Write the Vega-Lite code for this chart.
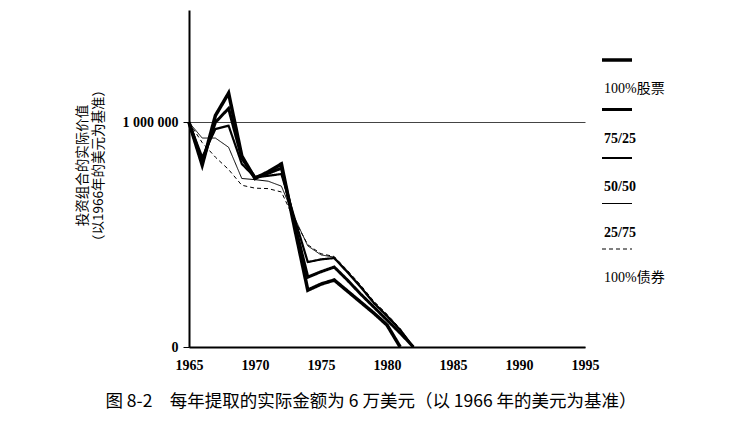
{
  "$schema": "https://vega.github.io/schema/vega-lite/v6.json",
  "width": 396,
  "height": 337,
  "autosize": {"type": "none"},
  "padding": {"left": 189, "top": 10, "right": 157, "bottom": 87},
  "background": "white",
  "title": {
    "text": "图 8-2　每年提取的实际金额为 6 万美元（以 1966 年的美元为基准）",
    "orient": "bottom",
    "anchor": "middle",
    "frame": "group",
    "dx": -16,
    "offset": 21,
    "font": "Noto Sans CJK SC",
    "fontSize": 17.5,
    "fontWeight": "normal",
    "color": "black"
  },
  "data": {
    "values": [
      {"year": 1965, "portfolio": "100%股票", "value": 1000000},
      {"year": 1966, "portfolio": "100%股票", "value": 810000},
      {"year": 1967, "portfolio": "100%股票", "value": 1030000},
      {"year": 1968, "portfolio": "100%股票", "value": 1130000},
      {"year": 1969, "portfolio": "100%股票", "value": 850000},
      {"year": 1970, "portfolio": "100%股票", "value": 750000},
      {"year": 1971, "portfolio": "100%股票", "value": 780000},
      {"year": 1972, "portfolio": "100%股票", "value": 815000},
      {"year": 1973, "portfolio": "100%股票", "value": 530000},
      {"year": 1974, "portfolio": "100%股票", "value": 253000},
      {"year": 1975, "portfolio": "100%股票", "value": 280000},
      {"year": 1976, "portfolio": "100%股票", "value": 298000},
      {"year": 1977, "portfolio": "100%股票", "value": 249000},
      {"year": 1978, "portfolio": "100%股票", "value": 200000},
      {"year": 1979, "portfolio": "100%股票", "value": 151000},
      {"year": 1980, "portfolio": "100%股票", "value": 98000},
      {"year": 1981, "portfolio": "100%股票", "value": 0},
      {"year": 1965, "portfolio": "75/25", "value": 1000000},
      {"year": 1966, "portfolio": "75/25", "value": 825000},
      {"year": 1967, "portfolio": "75/25", "value": 1000000},
      {"year": 1968, "portfolio": "75/25", "value": 1062000},
      {"year": 1969, "portfolio": "75/25", "value": 840000},
      {"year": 1970, "portfolio": "75/25", "value": 755000},
      {"year": 1971, "portfolio": "75/25", "value": 773000},
      {"year": 1972, "portfolio": "75/25", "value": 796000},
      {"year": 1973, "portfolio": "75/25", "value": 550000},
      {"year": 1974, "portfolio": "75/25", "value": 311000},
      {"year": 1975, "portfolio": "75/25", "value": 335000},
      {"year": 1976, "portfolio": "75/25", "value": 356000},
      {"year": 1977, "portfolio": "75/25", "value": 298000},
      {"year": 1978, "portfolio": "75/25", "value": 236000},
      {"year": 1979, "portfolio": "75/25", "value": 178000},
      {"year": 1980, "portfolio": "75/25", "value": 120000},
      {"year": 1981, "portfolio": "75/25", "value": 62000},
      {"year": 1982, "portfolio": "75/25", "value": 0},
      {"year": 1965, "portfolio": "50/50", "value": 1000000},
      {"year": 1966, "portfolio": "50/50", "value": 845000},
      {"year": 1967, "portfolio": "50/50", "value": 970000},
      {"year": 1968, "portfolio": "50/50", "value": 985000},
      {"year": 1969, "portfolio": "50/50", "value": 815000},
      {"year": 1970, "portfolio": "50/50", "value": 755000},
      {"year": 1971, "portfolio": "50/50", "value": 762000},
      {"year": 1972, "portfolio": "50/50", "value": 770000},
      {"year": 1973, "portfolio": "50/50", "value": 573000},
      {"year": 1974, "portfolio": "50/50", "value": 378000},
      {"year": 1975, "portfolio": "50/50", "value": 390000},
      {"year": 1976, "portfolio": "50/50", "value": 396000},
      {"year": 1977, "portfolio": "50/50", "value": 333000},
      {"year": 1978, "portfolio": "50/50", "value": 267000},
      {"year": 1979, "portfolio": "50/50", "value": 196000},
      {"year": 1980, "portfolio": "50/50", "value": 138000},
      {"year": 1981, "portfolio": "50/50", "value": 76000},
      {"year": 1982, "portfolio": "50/50", "value": 0},
      {"year": 1965, "portfolio": "25/75", "value": 1000000},
      {"year": 1966, "portfolio": "25/75", "value": 930000},
      {"year": 1967, "portfolio": "25/75", "value": 930000},
      {"year": 1968, "portfolio": "25/75", "value": 889000},
      {"year": 1969, "portfolio": "25/75", "value": 750000},
      {"year": 1970, "portfolio": "25/75", "value": 745000},
      {"year": 1971, "portfolio": "25/75", "value": 738000},
      {"year": 1972, "portfolio": "25/75", "value": 716000},
      {"year": 1973, "portfolio": "25/75", "value": 575000},
      {"year": 1974, "portfolio": "25/75", "value": 450000},
      {"year": 1975, "portfolio": "25/75", "value": 410000},
      {"year": 1976, "portfolio": "25/75", "value": 400000},
      {"year": 1977, "portfolio": "25/75", "value": 338000},
      {"year": 1978, "portfolio": "25/75", "value": 272000},
      {"year": 1979, "portfolio": "25/75", "value": 200000},
      {"year": 1980, "portfolio": "25/75", "value": 142000},
      {"year": 1981, "portfolio": "25/75", "value": 79000},
      {"year": 1982, "portfolio": "25/75", "value": 0},
      {"year": 1965, "portfolio": "100%债券", "value": 1000000},
      {"year": 1966, "portfolio": "100%债券", "value": 910000},
      {"year": 1967, "portfolio": "100%债券", "value": 845000},
      {"year": 1968, "portfolio": "100%债券", "value": 790000},
      {"year": 1969, "portfolio": "100%债券", "value": 720000},
      {"year": 1970, "portfolio": "100%债券", "value": 707000},
      {"year": 1971, "portfolio": "100%债券", "value": 705000},
      {"year": 1972, "portfolio": "100%债券", "value": 690000},
      {"year": 1973, "portfolio": "100%债券", "value": 565000},
      {"year": 1974, "portfolio": "100%债券", "value": 455000},
      {"year": 1975, "portfolio": "100%债券", "value": 415000},
      {"year": 1976, "portfolio": "100%债券", "value": 403000},
      {"year": 1977, "portfolio": "100%债券", "value": 341000},
      {"year": 1978, "portfolio": "100%债券", "value": 276000},
      {"year": 1979, "portfolio": "100%债券", "value": 204000},
      {"year": 1980, "portfolio": "100%债券", "value": 146000},
      {"year": 1981, "portfolio": "100%债券", "value": 82000},
      {"year": 1982, "portfolio": "100%债券", "value": 0}
    ]
  },
  "mark": {"type": "line", "color": "black", "strokeJoin": "miter"},
  "encoding": {
    "x": {
      "field": "year",
      "type": "quantitative",
      "scale": {"domain": [1965, 1995], "nice": false, "zero": false},
      "axis": {
        "title": null,
        "values": [1965, 1970, 1975, 1980, 1985, 1990, 1995],
        "format": "d",
        "ticks": false,
        "grid": false,
        "domainColor": "black",
        "domainWidth": 2,
        "labelFont": "Liberation Serif",
        "labelFontWeight": "bold",
        "labelFontSize": 14,
        "labelColor": "black",
        "labelPadding": 11,
        "labelFlush": false
      }
    },
    "y": {
      "field": "value",
      "type": "quantitative",
      "scale": {"domain": [0, 1500000], "nice": false},
      "axis": {
        "title": ["投资组合的实际价值", "（以1966年的美元为基准）"],
        "titleFont": "Noto Sans CJK SC",
        "titleFontWeight": "normal",
        "titleFontSize": 13.5,
        "titleLineHeight": 16,
        "titleColor": "black",
        "titleAngle": -90,
        "titleAlign": "center",
        "titleBaseline": "middle",
        "titleX": -107,
        "titleY": 155,
        "values": [0, 1000000],
        "labelExpr": "datum.value == 0 ? '0' : '1 000 000'",
        "grid": true,
        "gridColor": "#444444",
        "gridWidth": 1,
        "ticks": true,
        "tickSize": 6,
        "tickColor": "black",
        "domainColor": "black",
        "domainWidth": 2,
        "labelFont": "Liberation Serif",
        "labelFontWeight": "bold",
        "labelFontSize": 14,
        "labelColor": "black",
        "labelPadding": 5
      }
    },
    "strokeWidth": {
      "field": "portfolio",
      "type": "nominal",
      "title": null,
      "scale": {
        "type": "ordinal",
        "domain": ["100%股票", "75/25", "50/50", "25/75", "100%债券"],
        "range": [3.5, 3, 2.2, 1, 1]
      },
      "legend": {
        "orient": "none",
        "legendX": 411,
        "legendY": 48,
        "encode": {
          "symbols": {
            "update": {
              "y": {"value": 2},
              "strokeWidth": {"signal": "scale('strokeWidth', datum.value)"}
            }
          },
          "labels": {
            "update": {
              "y": {"value": 31},
              "fontWeight": {"signal": "indexof(['75/25', '50/50', '25/75'], datum.label) >= 0 ? 'bold' : 'normal'"}
            }
          }
        }
      }
    },
    "strokeDash": {
      "field": "portfolio",
      "type": "nominal",
      "title": null,
      "scale": {
        "domain": ["100%股票", "75/25", "50/50", "25/75", "100%债券"],
        "range": [[1, 0], [1, 0], [1, 0], [1, 0], [4, 3]]
      }
    }
  },
  "config": {
    "view": {"stroke": null},
    "legend": {
      "symbolType": "M-1,0H1",
      "symbolSize": 900,
      "symbolStrokeColor": "black",
      "labelFont": "Liberation Serif, Noto Sans CJK SC",
      "labelFontSize": 14,
      "labelColor": "black",
      "labelOffset": -30,
      "rowPadding": 7.5,
      "padding": 0
    }
  }
}
